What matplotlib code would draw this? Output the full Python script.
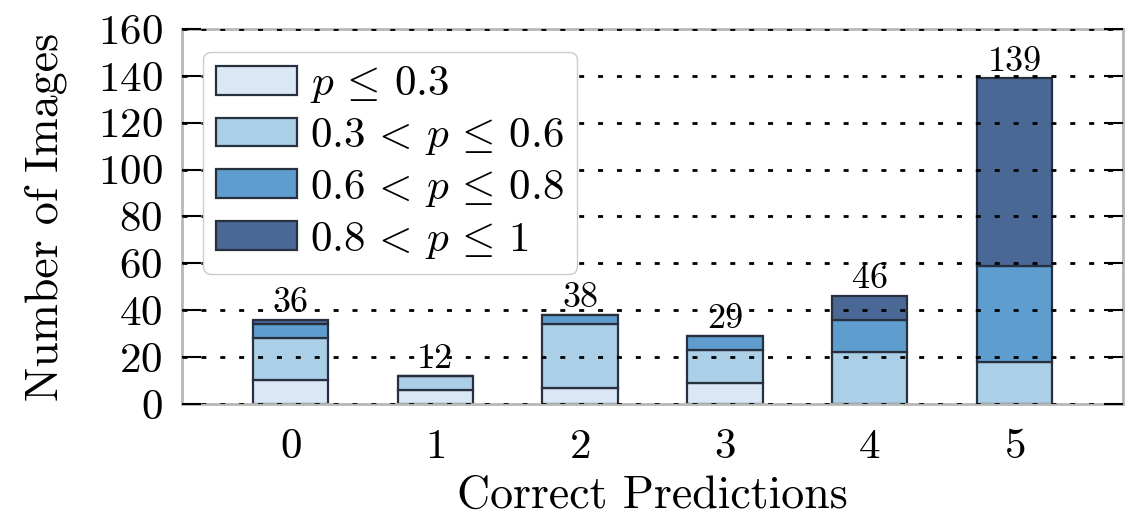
import matplotlib
matplotlib.use('Agg')
import matplotlib.pyplot as plt
import numpy as np

# data
correct = [0, 1, 2, 3, 4, 5]
p_low = [10, 6, 7, 9, 0, 0]          # p <= 0.3
p_midlow = [18, 6, 27, 14, 22, 18]   # 0.3 < p <= 0.6
p_midhigh = [6, 0, 4, 6, 14, 41]     # 0.6 < p <= 0.8
p_high = [2, 0, 0, 0, 10, 80]        # 0.8 < p <= 1
totals = [36, 12, 38, 29, 46, 139]

labels = [r'$p \,\leq\, 0.3$', r'$0.3 \,<\, p \,\leq\, 0.6$',
          r'$0.6 \,<\, p \,\leq\, 0.8$', r'$0.8 \,<\, p \,\leq\, 1$']
colors = ['#dae7f4', '#aacfe6', '#5f9dce', '#4a6895']

plt.rcParams['font.family'] = 'serif'
plt.rcParams['font.serif'] = ['cmr10']
plt.rcParams['mathtext.fontset'] = 'cm'
plt.rcParams['axes.formatter.use_mathtext'] = True

fig = plt.figure(figsize=(11.33, 5.28), dpi=100)
ax = fig.add_axes([0.1606, 0.235, 0.8306, 0.71])

x = np.array(correct)
bottom = np.zeros(len(x))
for vals, col, lab in zip([p_low, p_midlow, p_midhigh, p_high], colors, labels):
    ax.bar(x, vals, width=0.52, bottom=bottom, color=col, edgecolor='#27303f',
           linewidth=1.6, label=lab, zorder=2)
    bottom += np.array(vals)

for xi, t in zip(x, totals):
    ax.text(xi, t + 0.3, str(t), ha='center', va='bottom', fontsize=26, zorder=5)

ax.set_xlim(-0.75, 5.75)
ax.set_ylim(0, 160)
ax.set_yticks(np.arange(0, 161, 20))
ax.set_xticks(x)
ax.yaxis.grid(True, linestyle=(0, (1.8, 5)), color='black', linewidth=2, zorder=3)
ax.set_axisbelow(False)
ax.tick_params(axis='y', direction='in', length=14, width=1.5, right=True,
               labelsize=31, pad=14)
ax.tick_params(axis='x', length=0, labelsize=31, pad=18)
for s in ax.spines.values():
    s.set_color('#b8b8b8')
    s.set_linewidth(2)

ax.set_xlabel('Correct Predictions', fontsize=33, labelpad=6)
ax.set_ylabel('Number of Images', fontsize=33, labelpad=22)

leg = ax.legend(loc='upper left', fontsize=31, fancybox=True, framealpha=1,
                edgecolor='#cccccc', handlelength=1.9, handleheight=0.65,
                borderpad=0.3, labelspacing=0.25, handletextpad=0.3,
                borderaxespad=0, bbox_to_anchor=(0.022, 0.94))
leg.set_zorder(10)

fig.savefig('out.png', dpi=100)
